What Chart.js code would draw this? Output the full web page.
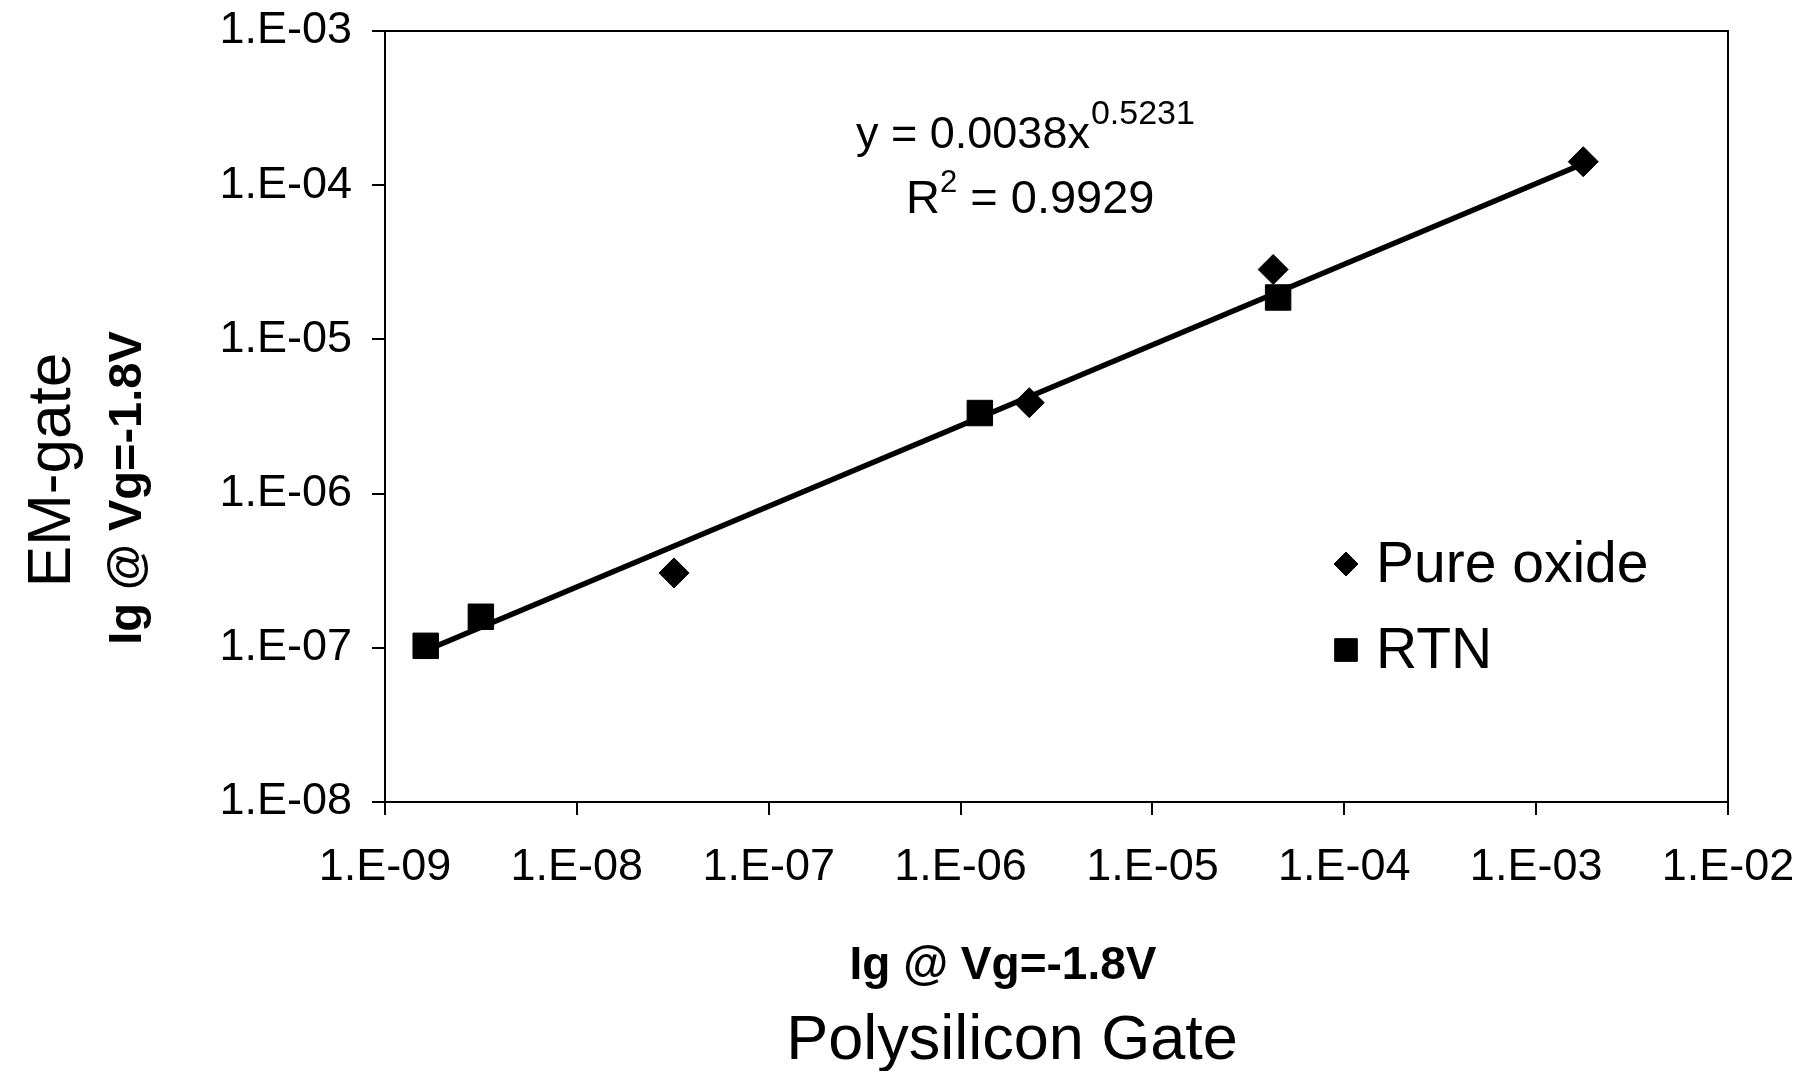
<!DOCTYPE html>
<html>
<head>
<meta charset="utf-8">
<title>EM-gate vs Polysilicon Gate</title>
<script src="https://cdn.jsdelivr.net/npm/chart.js"></script>
<style>
    html, body { margin: 0; padding: 0; background: #fff; }
    #chart-box { width: 1814px; height: 1071px; }
</style>
</head>
<body>
<div id="chart-box"><canvas id="myChart" width="1814" height="1071"></canvas></div>
<script>
"use strict";

// ========== DATA ========== //
// Ig @ Vg=-1.8V: polysilicon gate current (x) vs EM-gate current (y)
const oxideX = [3.21e-8, 2.28e-6, 4.26e-5, 1.76e-3];
const oxideY = [3.06e-7, 3.89e-6, 2.84e-5, 1.42e-4];
const rtnX = [1.63e-9, 3.16e-9, 1.26e-6, 4.52e-5];
const rtnY = [1.03e-7, 1.59e-7, 3.33e-6, 1.87e-5];

// power trendline y = a * x^b over both series
const trendCoef = 0.0038;
const trendExp = 0.5231;
const trendR2 = 0.9929;

const xTicks = [1e-9, 1e-8, 1e-7, 1e-6, 1e-5, 1e-4, 1e-3, 1e-2];
const xTickLabels = ['1.E-09', '1.E-08', '1.E-07', '1.E-06', '1.E-05', '1.E-04', '1.E-03', '1.E-02'];
const yTicks = [1e-8, 1e-7, 1e-6, 1e-5, 1e-4, 1e-3];
const yTickLabels = ['1.E-08', '1.E-07', '1.E-06', '1.E-05', '1.E-04', '1.E-03'];

const seriesNames = ['Pure oxide', 'RTN'];
const xTitle = 'Ig @ Vg=-1.8V';
const xCaption = 'Polysilicon Gate';
const yTitle = 'Ig @ Vg=-1.8V';
const yCaption = 'EM-gate';

const FONT = '"Liberation Sans", Arial, Helvetica, sans-serif';

// ========== HELPERS ========== //
function toPoints(xs, ys) {
    return xs.map((x, i) => ({ x: x, y: ys[i] }));
}

// two end points of the fitted line, at the smallest and largest x
function trendPoints() {
    let allX = oxideX.concat(rtnX);
    let ends = [Math.min(...allX), Math.max(...allX)];
    return ends.map(x => ({ x: x, y: trendCoef * Math.pow(x, trendExp) }));
}

function drawMarker(ctx, style, radius, x, y) {
    if (Chart.helpers && Chart.helpers.drawPoint) {
        Chart.helpers.drawPoint(ctx, { pointStyle: style, radius: radius, rotation: 0, borderWidth: 1 }, x, y);
        return;
    }
    ctx.beginPath();
    if (style === 'rectRot') {
        ctx.moveTo(x, y - radius);
        ctx.lineTo(x + radius, y);
        ctx.lineTo(x, y + radius);
        ctx.lineTo(x - radius, y);
        ctx.closePath();
    } else {
        let s = radius * Math.SQRT1_2;
        ctx.rect(x - s, y - s, 2 * s, 2 * s);
    }
    ctx.fill();
    ctx.stroke();
}

// tick labels hang over the ends of the axes, don't let them shrink the plot
function noEdgePadding(scale) {
    scale.paddingTop = 0;
    scale.paddingBottom = 0;
    scale.paddingLeft = 0;
    scale.paddingRight = 0;
}

// ========== PLUGINS ========== //
// white page + box round the plot area
const frame = {
    id: 'frame',
    beforeDraw(chart) {
        let ctx = chart.ctx;
        ctx.save();
        ctx.fillStyle = '#fff';
        ctx.fillRect(0, 0, chart.width, chart.height);
        ctx.restore();
    },
    afterDraw(chart) {
        let a = chart.chartArea;
        let ctx = chart.ctx;
        ctx.save();
        ctx.strokeStyle = '#000';
        ctx.lineWidth = 2;
        ctx.strokeRect(a.left, a.top, a.right - a.left, a.bottom - a.top);
        ctx.restore();
    }
};

// axis titles, fit equation and the legend
const annotations = {
    id: 'annotations',
    afterDraw(chart) {
        let ctx = chart.ctx;
        ctx.save();
        ctx.fillStyle = '#000';
        ctx.strokeStyle = '#000';
        ctx.textBaseline = 'alphabetic';

        // x axis titles
        ctx.textAlign = 'center';
        ctx.font = 'bold 46px ' + FONT;
        ctx.fillText(xTitle, 1003, 979);
        ctx.font = '63px ' + FONT;
        ctx.fillText(xCaption, 1012, 1059);

        // y axis titles, rotated
        ctx.save();
        ctx.translate(70, 470);
        ctx.rotate(-Math.PI / 2);
        ctx.font = '62px ' + FONT;
        ctx.fillText(yCaption, 0, 0);
        ctx.restore();
        ctx.save();
        ctx.translate(141, 488);
        ctx.rotate(-Math.PI / 2);
        ctx.font = 'bold 47px ' + FONT;
        ctx.fillText(yTitle, 0, 0);
        ctx.restore();

        // trendline equation
        ctx.textAlign = 'left';
        let eq = 'y = ' + trendCoef.toFixed(4) + 'x';
        ctx.font = '45px ' + FONT;
        ctx.fillText(eq, 856, 148);
        let w = ctx.measureText(eq).width;
        ctx.font = '34px ' + FONT;
        ctx.fillText(trendExp.toFixed(4), 856 + w + 1, 124);

        ctx.font = '47px ' + FONT;
        ctx.fillText('R', 906, 213);
        w = ctx.measureText('R').width;
        ctx.font = '31px ' + FONT;
        ctx.fillText('2', 906 + w, 192);
        let w2 = ctx.measureText('2').width;
        ctx.font = '47px ' + FONT;
        ctx.fillText(' = ' + trendR2.toFixed(4), 906 + w + w2, 213);

        // legend
        let rows = [
            { ds: chart.data.datasets[0], y: 564, r: 12 },
            { ds: chart.data.datasets[1], y: 650, r: 16 }
        ];
        ctx.font = '57px ' + FONT;
        ctx.textBaseline = 'middle';
        rows.forEach(row => {
            ctx.fillStyle = '#000';
            ctx.lineWidth = 1;
            drawMarker(ctx, row.ds.pointStyle, row.r, 1346, row.y);
            ctx.fillText(row.ds.label, 1376, row.y + 2);
        });
        ctx.restore();
    }
};

// ========== CHART ========== //
let chartContainer = document.querySelector('#myChart');
let chart = new Chart(chartContainer, {
    type: 'scatter',
    data: {
        datasets: [{
            label: seriesNames[0],
            data: toPoints(oxideX, oxideY),
            pointStyle: 'rectRot',
            pointRadius: 15,
            backgroundColor: '#000',
            borderColor: '#000',
            borderWidth: 1
        }, {
            label: seriesNames[1],
            data: toPoints(rtnX, rtnY),
            pointStyle: 'rect',
            pointRadius: 18,
            backgroundColor: '#000',
            borderColor: '#000',
            borderWidth: 1
        }, {
            type: 'line',
            label: 'Power trend',
            data: trendPoints(),
            showLine: true,
            fill: false,
            borderColor: '#000',
            borderWidth: 5.5,
            pointRadius: 0
        }]
    },
    options: {
        responsive: false,
        animation: false,
        devicePixelRatio: 1,
        layout: {
            padding: { top: 31, right: 86, bottom: 0, left: 0 }
        },
        plugins: {
            legend: { display: false },
            tooltip: { enabled: false }
        },
        scales: {
            x: {
                type: 'logarithmic',
                position: 'bottom',
                min: xTicks[0],
                max: xTicks[xTicks.length - 1],
                afterBuildTicks: scale => {
                    scale.ticks = xTicks.map(v => ({ value: v }));
                },
                afterFit: scale => {
                    scale.height = 269;
                    noEdgePadding(scale);
                },
                ticks: {
                    autoSkip: false,
                    maxRotation: 0,
                    padding: 26,
                    color: '#000',
                    font: { family: FONT, size: 45 },
                    callback: (value, index) => xTickLabels[index]
                },
                grid: {
                    drawOnChartArea: false,
                    tickLength: 13,
                    color: '#000',
                    lineWidth: 2
                },
                border: { display: true, color: '#000', width: 2 }
            },
            y: {
                type: 'logarithmic',
                position: 'left',
                min: yTicks[0],
                max: yTicks[yTicks.length - 1],
                afterBuildTicks: scale => {
                    scale.ticks = yTicks.map(v => ({ value: v }));
                },
                afterFit: scale => {
                    scale.width = 385;
                    noEdgePadding(scale);
                },
                ticks: {
                    autoSkip: false,
                    padding: 20,
                    color: '#000',
                    font: { family: FONT, size: 45 },
                    callback: (value, index) => yTickLabels[index]
                },
                grid: {
                    drawOnChartArea: false,
                    tickLength: 13,
                    color: '#000',
                    lineWidth: 2
                },
                border: { display: true, color: '#000', width: 2 }
            }
        }
    },
    plugins: [frame, annotations]
});
</script>
</body>
</html>
